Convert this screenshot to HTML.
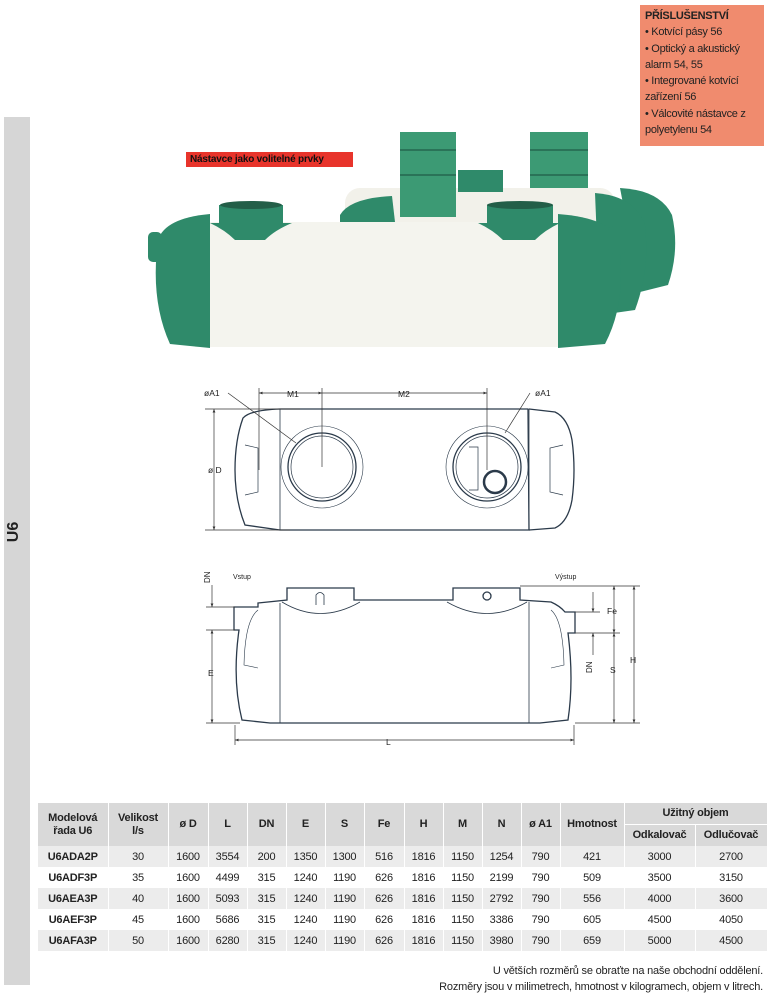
<!DOCTYPE html>
<html><head><meta charset="utf-8"><style>
body{margin:0;width:767px;height:1000px;background:#fff;position:relative;font-family:"Liberation Sans",sans-serif;overflow:hidden}
.side{position:absolute;left:4px;top:117px;width:26px;height:868px;background:#d6d6d6}
.u6{position:absolute;left:3px;top:520px;width:28px;height:24px;transform:rotate(-90deg);font-weight:bold;font-size:16px;text-align:center;color:#222}
.acc{position:absolute;left:640px;top:5px;width:124px;height:141px;background:#f08b6e;font-size:11px;line-height:16.3px;color:#222;padding:3px 0 0 5px;box-sizing:border-box;letter-spacing:-0.3px;white-space:nowrap}
.red{position:absolute;left:186px;top:152px;width:167px;height:15px;background:#e8342b;color:#111;font-weight:bold;font-size:10px;line-height:15px;padding-left:4px;box-sizing:border-box;letter-spacing:-0.2px}
table{position:absolute;left:38px;top:803px;width:729px;border-collapse:collapse;table-layout:fixed;font-size:11px;color:#222;letter-spacing:-0.2px}
td,th{text-align:center;padding:0;border-right:1px solid #fff;overflow:hidden;white-space:nowrap}
th{background:#d9d9d9;font-weight:bold;height:21px;line-height:13px}
tr.d td{height:21px}
tr.g td{background:#ececec}
td.m{font-weight:bold}
.note{position:absolute;right:4px;font-size:11px;color:#222;letter-spacing:-0.2px}
svg{position:absolute;left:0;top:0}
</style></head><body>
<div class="side"></div><div class="u6">U6</div>
<div class="acc"><b>PŘÍSLUŠENSTVÍ</b><br>• Kotvící pásy 56<br>• Optický a akustický<br>alarm 54, 55<br>• Integrované kotvící<br>zařízení 56<br>• Válcovité nástavce z<br>polyetylenu 54</div>

<svg width="767" height="1000">
<defs>
<marker id="a" viewBox="0 0 10 10" refX="10" refY="5" markerWidth="6" markerHeight="5" orient="auto-start-reverse"><path d="M0 1 L10 5 L0 9Z" fill="#333"/></marker>
</defs>
<!-- back tank 3 -->
<path d="M620 188 Q660 190 672 215 Q680 250 668 285 L640 292Z" fill="#2f8a6a"/>
<rect x="530" y="132" width="58" height="80" fill="#3c9a74"/>
<line x1="530" y1="150" x2="588" y2="150" stroke="#2a7358" stroke-width="2"/>
<line x1="530" y1="175" x2="588" y2="175" stroke="#2a7358" stroke-width="2"/>
<!-- back tank 2 -->
<rect x="345" y="188" width="270" height="120" rx="15" fill="#f2f1ea"/>
<path d="M595 193 Q635 196 645 225 Q650 270 635 310 L600 315Z" fill="#2f8a6a"/>
<path d="M340 215 Q350 198 392 196 L395 222 L340 222Z" fill="#2f8a6a"/>
<rect x="458" y="170" width="45" height="22" fill="#2f8a6a"/>
<rect x="400" y="132" width="56" height="85" fill="#3c9a74"/>
<line x1="400" y1="150" x2="456" y2="150" stroke="#2a7358" stroke-width="2"/>
<line x1="400" y1="175" x2="456" y2="175" stroke="#2a7358" stroke-width="2"/>
<!-- front tank -->
<rect x="195" y="222" width="375" height="125" fill="#f4f4ee"/>
<path d="M210 214 L210 348 L170 344 Q150 300 158 240 Q165 218 210 214Z" fill="#2f8a6a"/>
<rect x="148" y="232" width="14" height="30" rx="5" fill="#2f8a6a"/>
<path d="M558 214 L558 348 L605 344 Q628 300 618 240 Q610 218 558 214Z" fill="#2f8a6a"/>
<rect x="608" y="226" width="18" height="28" rx="5" fill="#2f8a6a"/>
<path d="M210 223 Q225 230 235 240 L265 240 Q275 230 292 223 L283 223 L283 205 L219 205 L219 223Z" fill="#2f8a6a"/>
<ellipse cx="251" cy="205" rx="31" ry="4" fill="#235e48"/>
<path d="M478 223 Q493 230 503 240 L535 240 Q545 230 560 223 L553 223 L553 205 L487 205 L487 223Z" fill="#2f8a6a"/>
<ellipse cx="520" cy="205" rx="33" ry="4" fill="#235e48"/>

<!-- top view drawing -->
<g fill="none" stroke="#2b3a4a" stroke-width="1.3">
<path d="M280 409 L528 409 L529 530 L280 530 L245 525 Q235 500 235 470 Q235 440 243 418 Q250 410 280 409Z"/>
<path d="M529 409 L555 412 Q568 418 572 440 Q576 470 572 500 Q568 522 555 528 L529 530"/>
<line x1="280" y1="409" x2="280" y2="530" stroke-width="0.8"/>
<line x1="529" y1="409" x2="529" y2="530" stroke-width="0.8"/>
<path d="M245 445 L258 448 L258 492 L245 495" stroke-width="0.7"/>
<path d="M563 445 L550 448 L550 492 L563 495" stroke-width="0.7"/>
<circle cx="322" cy="467" r="41" stroke-width="0.6"/>
<circle cx="322" cy="467" r="34"/>
<circle cx="322" cy="467" r="31" stroke-width="0.7"/>
<circle cx="487" cy="467" r="41" stroke-width="0.6"/>
<circle cx="487" cy="467" r="34"/>
<circle cx="487" cy="467" r="31" stroke-width="0.7"/>
<circle cx="495" cy="482" r="11" stroke-width="2.5"/>
<path d="M469 447 L478 447 L478 490 L469 490" stroke-width="0.7"/>
</g>
<g stroke="#333" stroke-width="0.7" fill="none">
<line x1="259" y1="393" x2="322" y2="393" marker-start="url(#a)" marker-end="url(#a)"/><line x1="322" y1="393" x2="487" y2="393" marker-end="url(#a)"/>
<line x1="259" y1="388" x2="259" y2="470"/><line x1="322" y1="388" x2="322" y2="467"/><line x1="487" y1="388" x2="487" y2="470"/>
<line x1="214" y1="409" x2="214" y2="530" marker-start="url(#a)" marker-end="url(#a)"/><line x1="205" y1="409" x2="300" y2="409"/><line x1="205" y1="530" x2="290" y2="530"/>
<line x1="228" y1="393" x2="296" y2="443"/><line x1="530" y1="393" x2="505" y2="433"/>
</g>
<g font-size="8.5" fill="#222">
<text x="204" y="396">øA1</text><text x="287" y="397">M1</text><text x="398" y="397">M2</text><text x="535" y="396">øA1</text><text x="208" y="473">ø D</text>
<text x="233" y="579" font-size="7">Vstup</text><text x="555" y="579" font-size="7">Výstup</text>
<text x="208" y="676">E</text><text x="386" y="745">L</text><text x="607" y="614">Fe</text><text x="610" y="673">S</text><text x="630" y="663">H</text>
<text x="0" y="0" transform="translate(210,583) rotate(-90)" font-size="8">DN</text>
<text x="0" y="0" transform="translate(592,673) rotate(-90)" font-size="8">DN</text>
</g>
<!-- side view drawing -->
<g fill="none" stroke="#2b3a4a" stroke-width="1.3">
<path d="M258 603 L287 600 L287 588 L354 588 L354 600 L453 600 L453 588 L520 588 L520 600 L551 602 Q560 606 565 612 L575 612 L575 633 L568 633 Q574 680 568 720 L540 723 L270 723 L242 720 Q232 680 239 630 L234 630 L234 607 L258 607Z"/>
<line x1="280" y1="603" x2="280" y2="723" stroke-width="0.8"/>
<line x1="529" y1="602" x2="529" y2="723" stroke-width="0.8"/>
<path d="M282 602 Q320 625 360 602" stroke-width="0.8"/><path d="M447 602 Q487 625 527 602" stroke-width="0.8"/>
<path d="M316 605 L316 595 Q320 590 324 595 L324 605" stroke-width="0.8"/>
<circle cx="487" cy="596" r="4"/>
<path d="M258 610 Q245 620 244 665 L258 668" stroke-width="0.6"/>
<path d="M551 610 Q563 620 564 665 L551 668" stroke-width="0.6"/>
</g>
<g stroke="#333" stroke-width="0.7" fill="none">
<line x1="206" y1="607" x2="235" y2="607"/><line x1="206" y1="630" x2="235" y2="630"/><line x1="206" y1="723" x2="240" y2="723"/>
<line x1="212" y1="585" x2="212" y2="607" marker-end="url(#a)"/>
<line x1="212" y1="630" x2="212" y2="723" marker-start="url(#a)" marker-end="url(#a)"/>
<line x1="235" y1="740" x2="574" y2="740" marker-start="url(#a)" marker-end="url(#a)"/><line x1="235" y1="725" x2="235" y2="745"/><line x1="574" y1="725" x2="574" y2="745"/>
<line x1="520" y1="586" x2="640" y2="586"/><line x1="575" y1="633" x2="620" y2="633"/><line x1="575" y1="723" x2="640" y2="723"/><line x1="575" y1="612" x2="600" y2="612"/>
<line x1="614" y1="586" x2="614" y2="633" marker-start="url(#a)" marker-end="url(#a)"/>
<line x1="614" y1="633" x2="614" y2="723" marker-start="url(#a)" marker-end="url(#a)"/>
<line x1="634" y1="586" x2="634" y2="723" marker-start="url(#a)" marker-end="url(#a)"/>
<line x1="593" y1="592" x2="593" y2="612" marker-end="url(#a)"/><line x1="593" y1="655" x2="593" y2="633" marker-end="url(#a)"/>
</g>
</svg>
<div class="red">Nástavce jako volitelné prvky</div>

<table>
<colgroup><col style="width:70px"><col style="width:60px"><col style="width:40px"><col style="width:39px"><col style="width:39px"><col style="width:39px"><col style="width:39px"><col style="width:40px"><col style="width:39px"><col style="width:39px"><col style="width:39px"><col style="width:39px"><col style="width:64px"><col style="width:71px"><col style="width:72px"></colgroup>
<tr><th rowspan="2">Modelová<br>řada U6</th><th rowspan="2">Velikost<br>l/s</th><th rowspan="2">ø D</th><th rowspan="2">L</th><th rowspan="2">DN</th><th rowspan="2">E</th><th rowspan="2">S</th><th rowspan="2">Fe</th><th rowspan="2">H</th><th rowspan="2">M</th><th rowspan="2">N</th><th rowspan="2">ø A1</th><th rowspan="2">Hmotnost</th><th colspan="2">Užitný objem</th></tr>
<tr><th style="border-top:1px solid #fff">Odkalovač</th><th style="border-top:1px solid #fff">Odlučovač</th></tr>
<tr class="d g"><td class="m">U6ADA2P</td><td>30</td><td>1600</td><td>3554</td><td>200</td><td>1350</td><td>1300</td><td>516</td><td>1816</td><td>1150</td><td>1254</td><td>790</td><td>421</td><td>3000</td><td>2700</td></tr>
<tr class="d"><td class="m">U6ADF3P</td><td>35</td><td>1600</td><td>4499</td><td>315</td><td>1240</td><td>1190</td><td>626</td><td>1816</td><td>1150</td><td>2199</td><td>790</td><td>509</td><td>3500</td><td>3150</td></tr>
<tr class="d g"><td class="m">U6AEA3P</td><td>40</td><td>1600</td><td>5093</td><td>315</td><td>1240</td><td>1190</td><td>626</td><td>1816</td><td>1150</td><td>2792</td><td>790</td><td>556</td><td>4000</td><td>3600</td></tr>
<tr class="d"><td class="m">U6AEF3P</td><td>45</td><td>1600</td><td>5686</td><td>315</td><td>1240</td><td>1190</td><td>626</td><td>1816</td><td>1150</td><td>3386</td><td>790</td><td>605</td><td>4500</td><td>4050</td></tr>
<tr class="d g"><td class="m">U6AFA3P</td><td>50</td><td>1600</td><td>6280</td><td>315</td><td>1240</td><td>1190</td><td>626</td><td>1816</td><td>1150</td><td>3980</td><td>790</td><td>659</td><td>5000</td><td>4500</td></tr>
</table>
<div class="note" style="top:965px">U větších rozměrů se obraťte na naše obchodní oddělení.</div>
<div class="note" style="top:981px">Rozměry jsou v milimetrech, hmotnost v kilogramech, objem v litrech.</div>
</body></html>
